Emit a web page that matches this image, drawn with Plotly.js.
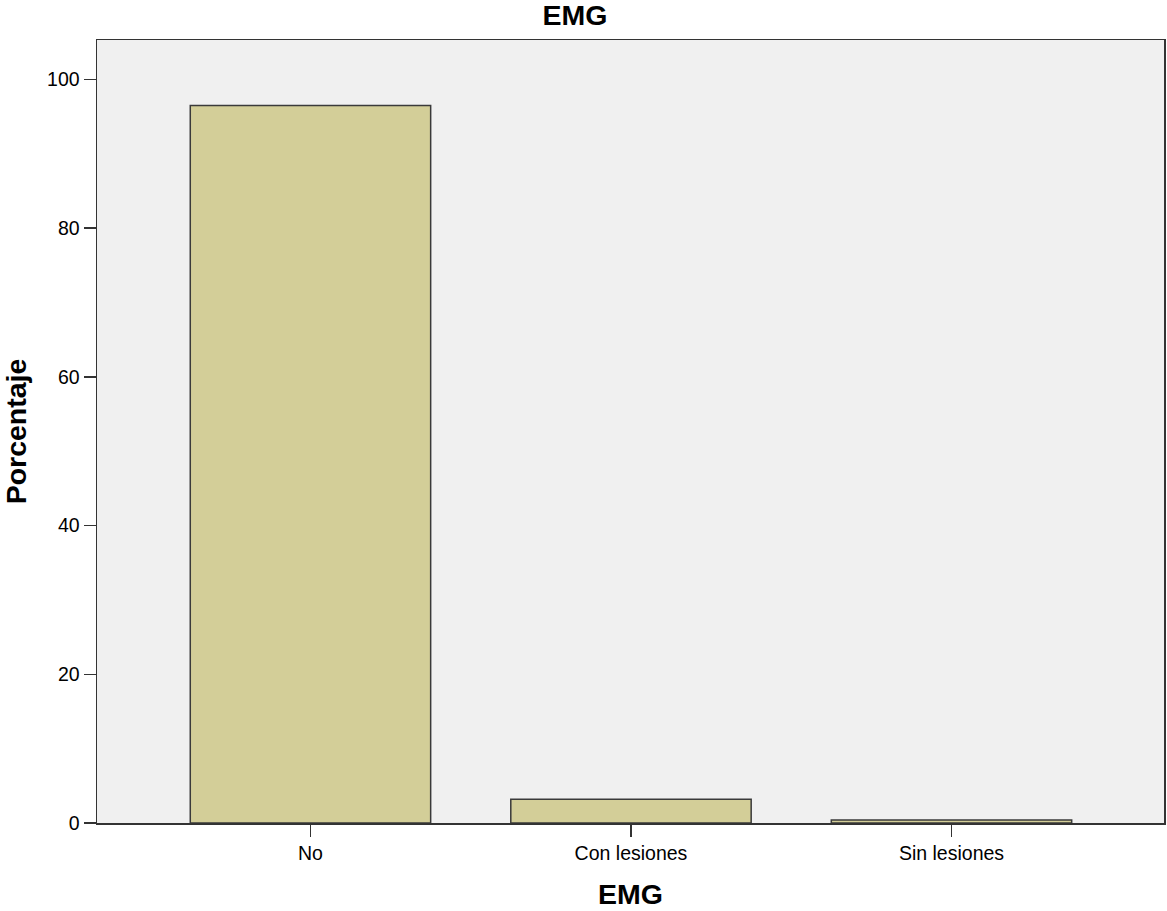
<!DOCTYPE html>
<html>
<head>
<meta charset="utf-8">
<script src="https://cdn.plot.ly/plotly-3.0.1.min.js"></script>
<style>html,body{margin:0;padding:0;background:#fff;}#chart{width:1167px;height:911px;}</style>
</head>
<body>
<div id="chart"></div>
<script>
const categories = ["No", "Con lesiones", "Sin lesiones"];
const porcentaje = [96.5, 3.2, 0.4];
const yTicks = [0, 20, 40, 60, 80, 100];

const trace = {
  type: "bar",
  x: [0, 1, 2],
  y: porcentaje,
  width: 0.75,
  marker: {color: "#d3ce98", line: {color: "#3a3a3a", width: 1.5}},
  hoverinfo: "x+y"
};

const FONT = "Liberation Sans, Arial, sans-serif";
const layout = {
  width: 1167, height: 911,
  margin: {l: 97, r: 3, t: 40, b: 88},
  paper_bgcolor: "#ffffff",
  plot_bgcolor: "#f0f0f0",
  font: {family: FONT, color: "#000"},
  title: {text: "<b>EMG</b>", font: {size: 28.5, family: FONT}, x: 0.4927, xanchor: "center", xref: "container", yref: "container", y: 0.983, yanchor: "middle"},
  showlegend: false,
  bargap: 0,
  xaxis: {
    range: [-0.666, 2.663],
    tickvals: [0, 1, 2], ticktext: categories,
    ticks: "outside", ticklen: 12, tickwidth: 1.5, tickcolor: "#333",
    tickfont: {size: 19.5},
    showgrid: false, zeroline: false,
    showline: true, linecolor: "#333", linewidth: 1.5, mirror: true,
    automargin: false,
    title: {text: "<b>EMG</b>", font: {size: 28.5}, standoff: 21}
  },
  yaxis: {
    range: [0, 105.3],
    tickvals: yTicks,
    ticks: "outside", ticklen: 12, tickwidth: 1.5, tickcolor: "#333",
    tickfont: {size: 19.5},
    showgrid: false, zeroline: false,
    showline: true, linecolor: "#333", linewidth: 1.5, mirror: true,
    automargin: false,
    title: {text: "<b>Porcentaje</b>", font: {size: 28.5}, standoff: 15}
  }
};

Plotly.newPlot("chart", [trace], layout, {displayModeBar: false, staticPlot: true});
</script>
</body>
</html>
